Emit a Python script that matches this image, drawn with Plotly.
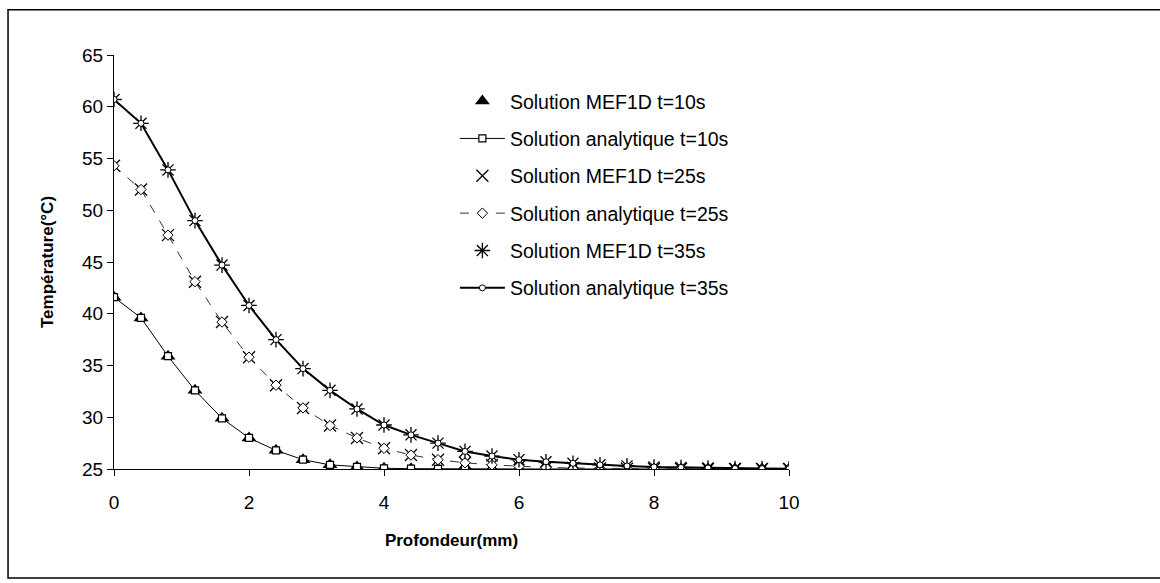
import plotly.graph_objects as go

# Depth positions (mm)
profondeur = [0.0, 0.4, 0.8, 1.2, 1.6, 2.0, 2.4, 2.8, 3.2, 3.6, 4.0, 4.4, 4.8,
              5.2, 5.6, 6.0, 6.4, 6.8, 7.2, 7.6, 8.0, 8.4, 8.8, 9.2, 9.6, 10.0]

# Temperature profiles (°C)
temp_t10 = [41.6, 39.6, 35.9, 32.6, 29.9, 28.0, 26.8, 25.9, 25.4, 25.2, 25.07, 25.03, 25.01,
            25.0, 25.0, 25.0, 25.0, 25.0, 25.0, 25.0, 25.0, 25.0, 25.0, 25.0, 25.0, 25.0]
temp_t25 = [54.3, 52.0, 47.6, 43.1, 39.2, 35.8, 33.1, 30.9, 29.2, 28.0, 27.0, 26.35, 25.9,
            25.6, 25.4, 25.25, 25.15, 25.1, 25.05, 25.03, 25.02, 25.01, 25.0, 25.0, 25.0, 25.0]
temp_t35 = [60.7, 58.4, 53.9, 49.0, 44.7, 40.8, 37.5, 34.7, 32.6, 30.8, 29.25, 28.3, 27.5,
            26.7, 26.25, 25.9, 25.7, 25.55, 25.4, 25.3, 25.2, 25.15, 25.1, 25.05, 25.03, 25.02]

x_ticks = [0, 2, 4, 6, 8, 10]
y_ticks = [25, 30, 35, 40, 45, 50, 55, 60, 65]

FONT = "Arial, Liberation Sans, sans-serif"

fig = go.Figure()

# t = 10 s
fig.add_trace(go.Scatter(
    x=profondeur, y=temp_t10, mode="markers", name="Solution MEF1D t=10s",
    legendgroup="a",
    marker=dict(symbol="triangle-up", size=13, color="black"),
))
fig.add_trace(go.Scatter(
    x=profondeur, y=temp_t10, mode="lines+markers", name="Solution analytique t=10s",
    legendgroup="b",
    line=dict(color="black", width=1),
    marker=dict(symbol="square", size=7, color="white", line=dict(color="black", width=1.2)),
))

# t = 25 s
fig.add_trace(go.Scatter(
    x=profondeur, y=temp_t25, mode="markers", name="Solution MEF1D t=25s",
    legendgroup="c",
    marker=dict(symbol="x-thin", size=12, color="black", line=dict(color="black", width=1.3)),
))
fig.add_trace(go.Scatter(
    x=profondeur, y=temp_t25, mode="lines+markers", name="Solution analytique t=25s",
    legendgroup="d",
    line=dict(color="#333333", width=1, dash="dash"),
    marker=dict(symbol="diamond", size=8, color="white", line=dict(color="black", width=1)),
))

# t = 35 s
fig.add_trace(go.Scatter(
    x=profondeur, y=temp_t35, mode="markers", name="Solution MEF1D t=35s",
    legendgroup="e",
    marker=dict(symbol="asterisk", size=13, color="black", line=dict(color="black", width=1.3)),
))
fig.add_trace(go.Scatter(
    x=profondeur, y=temp_t35, mode="lines+markers", name="Solution analytique t=35s",
    legendgroup="f",
    line=dict(color="black", width=2),
    marker=dict(symbol="circle", size=6, color="white", line=dict(color="black", width=1)),
))

# Outer frame of the chart area
fig.add_shape(type="rect", xref="paper", yref="paper",
              x0=-0.157, x1=1.62, y0=-0.263, y1=1.109,
              line=dict(color="black", width=1.5), fillcolor="rgba(0,0,0,0)", layer="below")

fig.update_layout(
    width=1160, height=583,
    margin=dict(l=114, r=371, t=55, b=114),
    paper_bgcolor="white", plot_bgcolor="white",
    font=dict(family=FONT, size=19, color="black"),
    showlegend=True,
    legend=dict(
        x=0.505, y=0.935, xanchor="left", yanchor="top",
        bgcolor="rgba(0,0,0,0)", borderwidth=0,
        font=dict(family=FONT, size=19.5, color="black"),
        tracegroupgap=9, itemwidth=45,
    ),
    xaxis=dict(
        range=[0, 10], tickvals=x_ticks, ticktext=[str(v) for v in x_ticks],
        showgrid=False, zeroline=False, showline=True, linecolor="black", linewidth=1.2,
        ticks="outside", ticklen=6, tickcolor="black", tickfont=dict(size=19),
        ticklabelstandoff=10,
        title=dict(text="<b>Profondeur(mm)</b>", font=dict(size=17), standoff=22),
    ),
    yaxis=dict(
        range=[25, 65], tickvals=y_ticks, ticktext=[str(v) for v in y_ticks],
        showgrid=False, zeroline=False, showline=True, linecolor="black", linewidth=1.2,
        ticks="outside", ticklen=6, tickcolor="black", tickfont=dict(size=19),
        title=dict(text="<b>Température(°C)</b>", font=dict(size=17), standoff=24),
    ),
)

fig.write_html("out.html")
